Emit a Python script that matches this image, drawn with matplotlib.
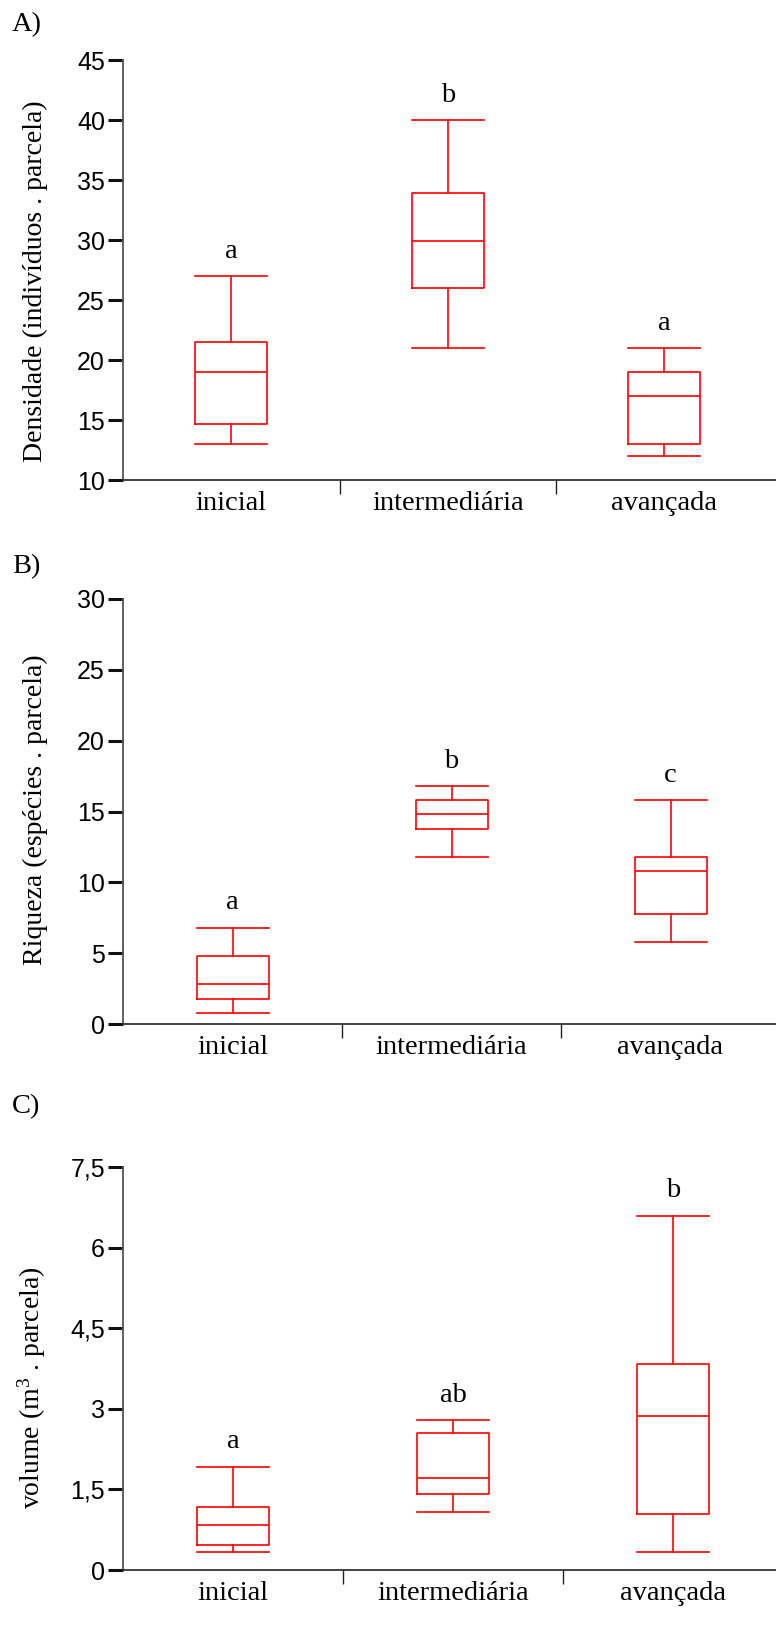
import matplotlib
matplotlib.use('Agg')
import matplotlib.pyplot as plt

plt.rcParams['mathtext.fontset'] = 'custom'
plt.rcParams['mathtext.rm'] = 'Liberation Serif'
plt.rcParams['mathtext.it'] = 'Liberation Serif:italic'

categories = ['inicial', 'intermediária', 'avançada']

# A) densidade
dens_low = [13, 21, 12]
dens_q1 = [14.7, 26, 13]
dens_med = [19, 29.9, 17]
dens_q3 = [21.5, 33.9, 19]
dens_high = [27, 40, 21]
dens_letters = ['a', 'b', 'a']
dens_ticks = [10, 15, 20, 25, 30, 35, 40, 45]
dens_ticklabels = ['10', '15', '20', '25', '30', '35', '40', '45']

# B) riqueza
riq_low = [0.8, 11.8, 5.8]
riq_q1 = [1.8, 13.8, 7.8]
riq_med = [2.8, 14.8, 10.8]
riq_q3 = [4.8, 15.8, 11.8]
riq_high = [6.8, 16.8, 15.8]
riq_letters = ['a', 'b', 'c']
riq_ticks = [0, 5, 10, 15, 20, 25, 30]
riq_ticklabels = ['0', '5', '10', '15', '20', '25', '30']

# C) volume
vol_low = [0.34, 1.08, 0.34]
vol_q1 = [0.47, 1.42, 1.04]
vol_med = [0.84, 1.71, 2.87]
vol_q3 = [1.17, 2.55, 3.84]
vol_high = [1.92, 2.79, 6.59]
vol_letters = ['a', 'ab', 'b']
vol_ticks = [0, 1.5, 3, 4.5, 6, 7.5]
vol_ticklabels = ['0', '1,5', '3', '4,5', '6', '7,5']

W, H = 776, 1650
fig = plt.figure(figsize=(W / 100, H / 100), dpi=100)

serif = 'Liberation Serif'
sans = 'Liberation Sans'


def plot_panel(top, bottom, spacing, lows, q1s, meds, q3s, highs, letters,
               ticks, ticklabels, ylabel, label_y, tag, tag_y):
    left = 123
    ax = fig.add_axes([left / W, 1 - bottom / H, (W - left) / W, (bottom - top) / H])
    w = 72 / spacing
    stats = []
    for lo, a, m, b, hi in zip(lows, q1s, meds, q3s, highs):
        stats.append({'whislo': lo, 'q1': a, 'med': m, 'q3': b, 'whishi': hi, 'fliers': []})
    line = dict(color='red', linewidth=1.2)
    ax.bxp(stats, positions=[0, 1, 2], widths=w, capwidths=w, showfliers=False,
           boxprops=line, whiskerprops=line, capprops=line, medianprops=line)
    for i, (hi, txt) in enumerate(zip(highs, letters)):
        ax.annotate(txt, xy=(i, hi), xytext=(0, 9), textcoords='offset points',
                    ha='center', va='bottom', fontsize=20.5, family=serif)

    ax.set_xlim(-0.5, -0.5 + (W - left) / spacing)
    ax.set_ylim(ticks[0], ticks[-1])
    ax.set_yticks(ticks)
    ax.set_yticklabels(ticklabels, family=sans, fontsize=18)
    ax.set_xticks([0, 1, 2])
    ax.set_xticklabels(categories, family=serif, fontsize=20.5)
    ax.set_xticks([0.5, 1.5], minor=True)
    ax.tick_params(axis='x', which='major', length=0, pad=8)
    ax.tick_params(axis='x', which='minor', length=10, width=1, color='#222222')
    ax.tick_params(axis='y', length=11, width=2.2, pad=2, color='#111111')
    for s in ['top', 'right']:
        ax.spines[s].set_visible(False)
    ax.spines['left'].set_color('#555555')
    ax.spines['left'].set_linewidth(1.3)
    ax.spines['bottom'].set_color('#222222')
    ax.spines['bottom'].set_linewidth(1.2)

    ax.set_ylabel(ylabel, family=serif, fontsize=20)
    ax.yaxis.set_label_coords((48 - left) / (W - left), (bottom - label_y) / (bottom - top))
    fig.text(12 / W, 1 - tag_y / H, tag, family=serif, fontsize=20.5, va='center', ha='left')
    return ax


plot_panel(60, 480, 216.5, dens_low, dens_q1, dens_med, dens_q3, dens_high, dens_letters,
           dens_ticks, dens_ticklabels, 'Densidade (indivíduos . parcela)', 281, 'A)', 25)
plot_panel(599, 1024, 219, riq_low, riq_q1, riq_med, riq_q3, riq_high, riq_letters,
           riq_ticks, riq_ticklabels, 'Riqueza (espécies . parcela)', 810, 'B)', 567)
plot_panel(1167, 1570, 220, vol_low, vol_q1, vol_med, vol_q3, vol_high, vol_letters,
           vol_ticks, vol_ticklabels, 'volume (m$^{3}$ . parcela)', 1388, 'C)', 1107)

fig.savefig('out.png', dpi=100)
